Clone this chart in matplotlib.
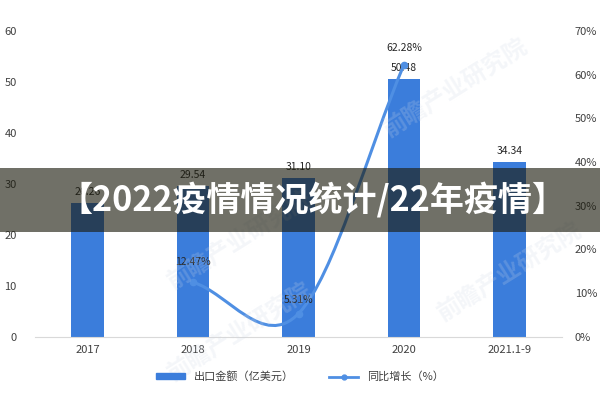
import numpy as np
import matplotlib
matplotlib.use("Agg")
import matplotlib.pyplot as plt
from matplotlib.path import Path
from matplotlib.patches import PathPatch, Rectangle
from matplotlib.lines import Line2D

plt.rcParams['font.family'] = ['Noto Sans CJK SC', 'DejaVu Sans']

# data
years = ["2017", "2018", "2019", "2020", "2021.1-9"]
export_value = [26.26, 29.54, 31.10, 50.48, 34.34]      # 亿美元
growth_years = [1, 2, 3]                                  # index into years
growth_rate = [12.47, 5.31, 62.28]                        # %

bar_color = "#3b7ddb"
line_color = "#4f8fe3"
text_color = "#404040"

fig = plt.figure(figsize=(6, 4), dpi=100)
ax = fig.add_axes([0.058, 0.158, 0.879, 0.765])
ax2 = ax.twinx()

x = np.arange(len(years))
ax.bar(x, export_value, width=0.31, color=bar_color, zorder=2)
for xi, v in zip(x, export_value):
    ax.text(xi, v + 1.2, f"{v:.2f}", ha="center", va="bottom", fontsize=7.5, color="#262626")

ax.set_xlim(-0.5, len(years) - 0.5)
ax.set_ylim(0, 60)
ax.set_yticks(range(0, 61, 10))
ax.set_xticks(x)
ax.set_xticklabels(years)
ax2.set_ylim(0, 70)
ax2.set_yticks(range(0, 71, 10))
ax2.set_yticklabels([f"{t}%" for t in range(0, 71, 10)])

for a in (ax, ax2):
    for s in a.spines.values():
        s.set_visible(False)
    a.tick_params(length=0, labelsize=8, colors=text_color)
ax.spines["bottom"].set_visible(True)
ax.spines["bottom"].set_color("#d9d9d9")
ax.tick_params(axis="y", pad=13)
ax2.tick_params(axis="y", pad=9)
ax.tick_params(axis="x", pad=6)

# smoothed growth line (Catmull-Rom style bezier through the data points)
gx = np.array(growth_years, dtype=float)
gy = np.array(growth_rate, dtype=float)
n = len(gx)
tan = []
for i in range(n):
    if i == 0:
        tan.append(((gx[1] - gx[0]), (gy[1] - gy[0])))
    elif i == n - 1:
        tan.append(((gx[-1] - gx[-2]), (gy[-1] - gy[-2])))
    else:
        tan.append(((gx[i + 1] - gx[i - 1]) / 2, (gy[i + 1] - gy[i - 1]) / 2))
verts = [(gx[0], gy[0])]
codes = [Path.MOVETO]
for i in range(n - 1):
    verts += [(gx[i] + tan[i][0] / 3, gy[i] + tan[i][1] / 3),
              (gx[i + 1] - tan[i + 1][0] / 3, gy[i + 1] - tan[i + 1][1] / 3),
              (gx[i + 1], gy[i + 1])]
    codes += [Path.CURVE4] * 3
ax2.add_patch(PathPatch(Path(verts, codes), facecolor="none", edgecolor=line_color,
                        lw=2.2, zorder=3))
ax2.plot(gx, gy, "o", color=line_color, ms=4.5, zorder=4)
ax2.text(gx[0], gy[0] + 3.5, f"{gy[0]:.2f}%", ha="center", va="bottom", fontsize=7.5, color="#262626")
ax2.text(gx[1], gy[1] + 2.0, f"{gy[1]:.2f}%", ha="center", va="bottom", fontsize=7.5, color="#262626")
ax2.text(gx[2], gy[2] + 2.6, f"{gy[2]:.2f}%", ha="center", va="bottom", fontsize=7.5, color="#262626")

# legend
handles = [Rectangle((0, 0), 1, 1, color=bar_color),
           Line2D([0], [0], color=line_color, lw=2, marker="o", ms=3.5)]
fig.legend(handles, ["出口金额（亿美元）", "同比增长（%）"], loc="center",
           bbox_to_anchor=(0.5, 0.058), ncol=2, frameon=False, fontsize=8,
           handlelength=2.6, handleheight=0.5, columnspacing=3.2, labelcolor=text_color)

# faint watermarks
for wx, wy in [(0.76, 0.78), (0.4, 0.4), (0.4, 0.17), (0.85, 0.32)]:
    fig.text(wx, wy, "前瞻产业研究院", fontsize=17, color="#cfd8e6", alpha=0.22,
             rotation=32, ha="center", va="center", fontweight="bold", zorder=1)

# overlay banner
fig.patches.append(Rectangle((0, 0.42), 1, 0.16, transform=fig.transFigure,
                             facecolor="#1c1c0e", alpha=0.63, zorder=10))
fig.text(0.52, 0.5, "【2022疫情情况统计/22年疫情】", fontsize=24.5, color="white",
         fontweight="heavy", ha="center", va="center", zorder=11)

fig.savefig("out.png", dpi=100)
